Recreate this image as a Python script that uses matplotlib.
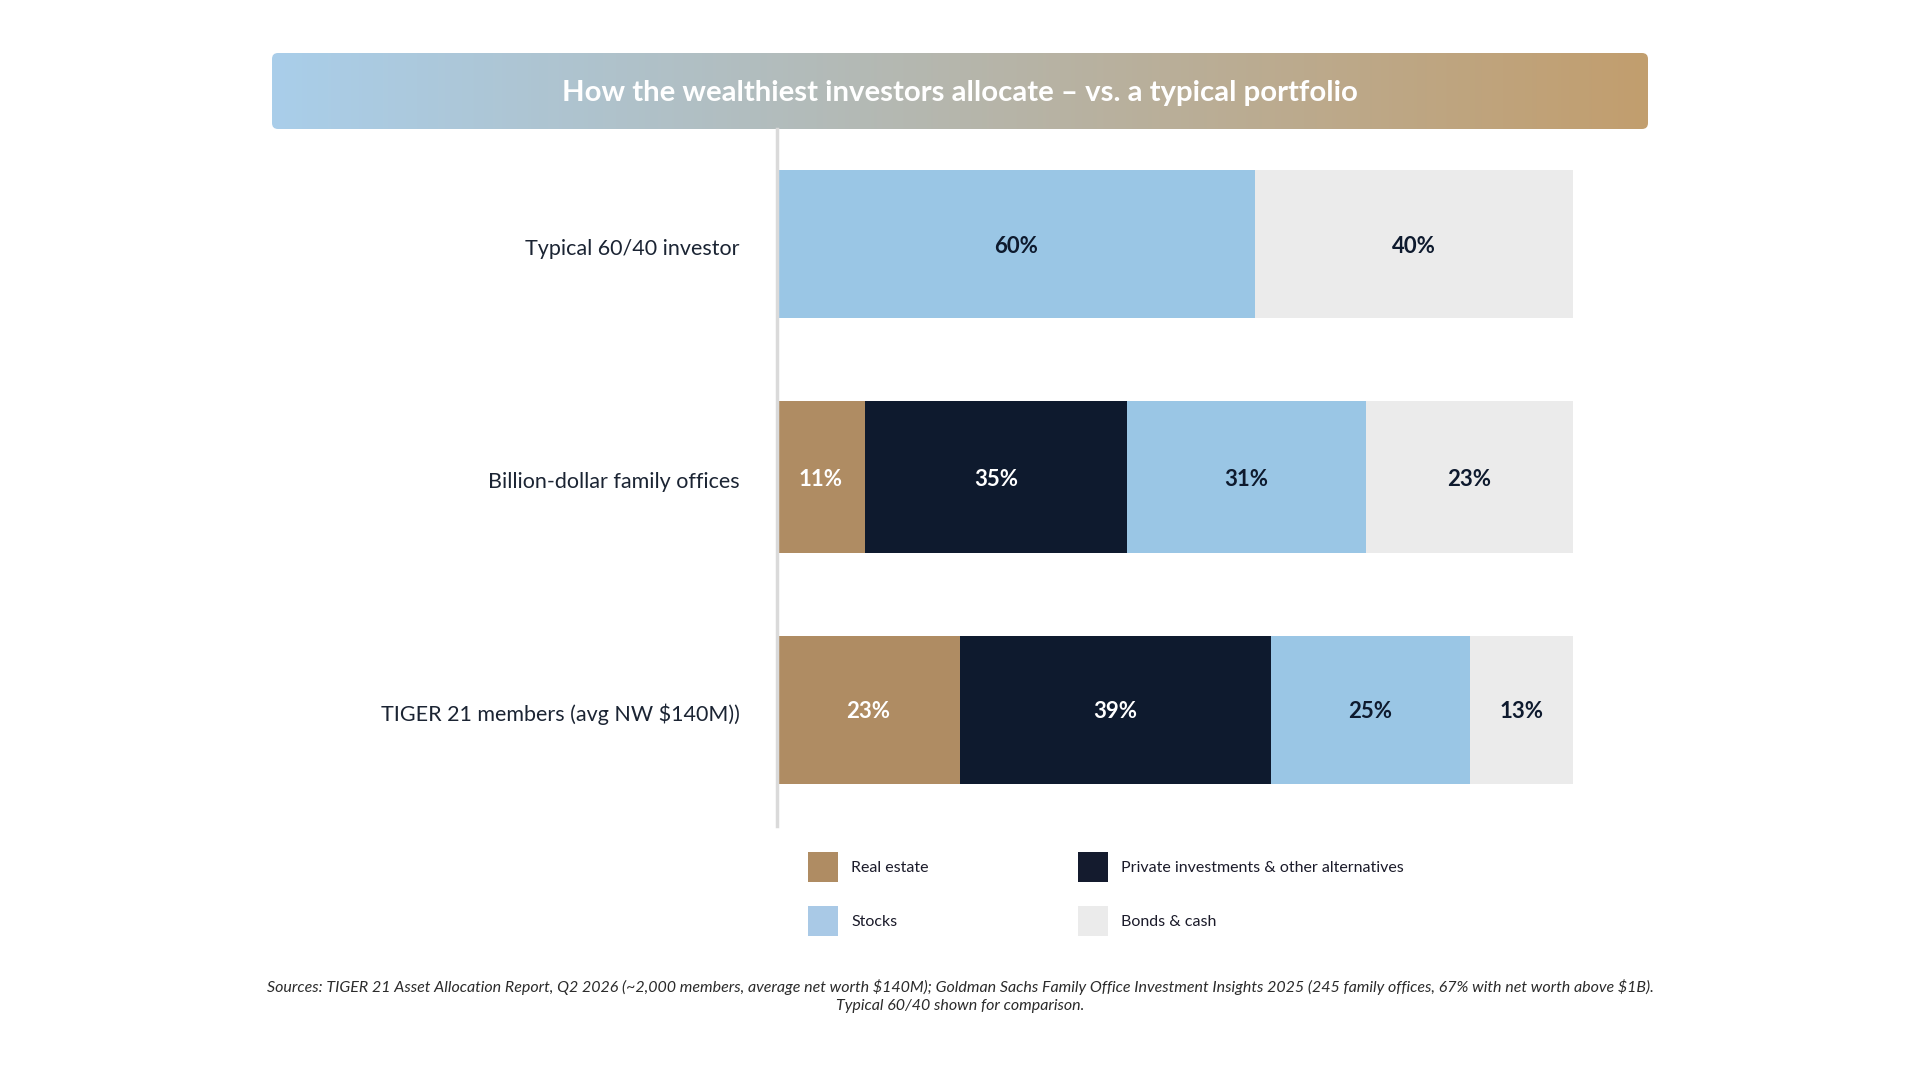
import numpy as np
import matplotlib
matplotlib.use("Agg")
import matplotlib.pyplot as plt
from matplotlib.patches import FancyBboxPatch, Rectangle
from matplotlib.transforms import Affine2D, ScaledTranslation

plt.rcParams['font.family'] = ['Lato', 'DejaVu Sans']
plt.rcParams['text.parse_math'] = False

# ---- data ----
categories = ["Typical 60/40 investor", "Billion-dollar family offices", "TIGER 21 members (avg NW $140M))"]
series = ["Real estate", "Private investments & other alternatives", "Stocks", "Bonds & cash"]
colors = ["#AF8C63", "#0E1A2E", "#9AC6E5", "#EBEBEB"]
legend_colors = ["#AF8C63", "#141B2E", "#A9C9E6", "#EBEBEB"]
label_colors = ["white", "white", "#0E1A2E", "#0E1A2E"]
# drawn widths per series
real_estate = [0, 11, 23]
private_alt = [0, 33, 39]
stocks = [60, 30, 25]
bonds_cash = [40, 26, 13]
# printed labels per series
real_estate_lbl = ["", "11%", "23%"]
private_alt_lbl = ["", "35%", "39%"]
stocks_lbl = ["60%", "31%", "25%"]
bonds_cash_lbl = ["40%", "23%", "13%"]

title = "How the wealthiest investors allocate \u2013 vs. a typical portfolio"
footnote = ("Sources: TIGER 21 Asset Allocation Report, Q2 2026 (~2,000 members, average net worth $140M); "
            "Goldman Sachs Family Office Investment Insights 2025 (245 family offices, 67% with net worth above $1B).\n"
            "Typical 60/40 shown for comparison.")

W, H = 1920, 1080
fig = plt.figure(figsize=(W / 100, H / 100), dpi=100)
fig.patch.set_facecolor("white")

def fx(px):
    return px / W

def fy(py):
    return 1 - py / H

# ---- title banner with gradient ----
tl, tr, tt, tb = 272, 1648, 53, 129
tax = fig.add_axes([fx(tl), fy(tb), fx(tr - tl), (tb - tt) / H])
tax.set_xlim(0, 1)
tax.set_ylim(0, 1)
tax.axis("off")
c1 = np.array([0xA9, 0xCE, 0xEA]) / 255
c2 = np.array([0xC2, 0x9E, 0x6E]) / 255
t = np.linspace(0, 1, 512)
grad = (c1[None, :] * (1 - t[:, None]) + c2[None, :] * t[:, None])[None, :, :]
im = tax.imshow(grad, extent=[0, 1, 0, 1], aspect="auto", zorder=0)
clip = FancyBboxPatch((0, 0), (tr - tl), (tb - tt), boxstyle="round,pad=0,rounding_size=6",
                      facecolor="none", edgecolor="none")
clip.set_transform(Affine2D().scale(1 / (tr - tl), 1 / (tb - tt)) + tax.transAxes)
tax.add_patch(clip)
im.set_clip_path(clip)
tax.text(0.5, 0.47, title, ha="center", va="center", color="white",
         fontsize=21.2, fontweight="bold", transform=tax.transAxes)

# ---- bars ----
al, ar, at, ab = 777, 1573, 129, 826
ax = fig.add_axes([fx(al), fy(ab), fx(ar - al), (ab - at) / H])
y = np.arange(len(categories))
bar_h = [0.635, 0.655, 0.635]
data = [real_estate, private_alt, stocks, bonds_cash]
labels = [real_estate_lbl, private_alt_lbl, stocks_lbl, bonds_cash_lbl]
left = np.zeros(len(categories))
for vals, lbls, col, lc in zip(data, labels, colors, label_colors):
    vals = np.array(vals, dtype=float)
    ax.barh(y, vals, left=left, height=bar_h, color=col, edgecolor="none", zorder=2)
    for yi, (v, l, s) in enumerate(zip(vals, lbls, left)):
        if v > 0 and l:
            ax.text(s + v / 2, yi, l, ha="center", va="center_baseline", color=lc,
                    fontsize=16, fontweight="bold", zorder=3)
    left += vals

ax.set_xlim(0, 100)
ax.set_ylim(2.498, -0.494)
ax.set_yticks(y)
ax.set_yticklabels(categories, fontsize=15.5, color="#1B2433", va="center_baseline")
ax.tick_params(axis="y", length=0, pad=27)
shift = ScaledTranslation(0, -2.5 / 100, fig.dpi_scale_trans)
for lab in ax.get_yticklabels():
    lab.set_transform(lab.get_transform() + shift)
ax.set_xticks([])
for s in ["top", "right", "bottom"]:
    ax.spines[s].set_visible(False)
ax.spines["left"].set_color("#DADADA")
ax.spines["left"].set_linewidth(2.5)
ax.set_facecolor("none")

# ---- legend (manual) ----
leg_pos = [(808, 852), (1078, 852), (808, 906), (1078, 906)]
for (lx, ly), name, col in zip(leg_pos, series, legend_colors):
    fig.add_artist(Rectangle((fx(lx), fy(ly + 30)), fx(30), 30 / H,
                             transform=fig.transFigure, facecolor=col, edgecolor="none"))
    fig.text(fx(lx + 43), fy(ly + 16), name, ha="left", va="center",
             fontsize=11.5, color="#1B1B2A")

# ---- footnote ----
fig.text(0.5, fy(996), footnote, ha="center", va="center", fontsize=11.5,
         style="italic", color="#2B2B2B", linespacing=1.3)

fig.savefig("out.png", dpi=100, facecolor="white")
